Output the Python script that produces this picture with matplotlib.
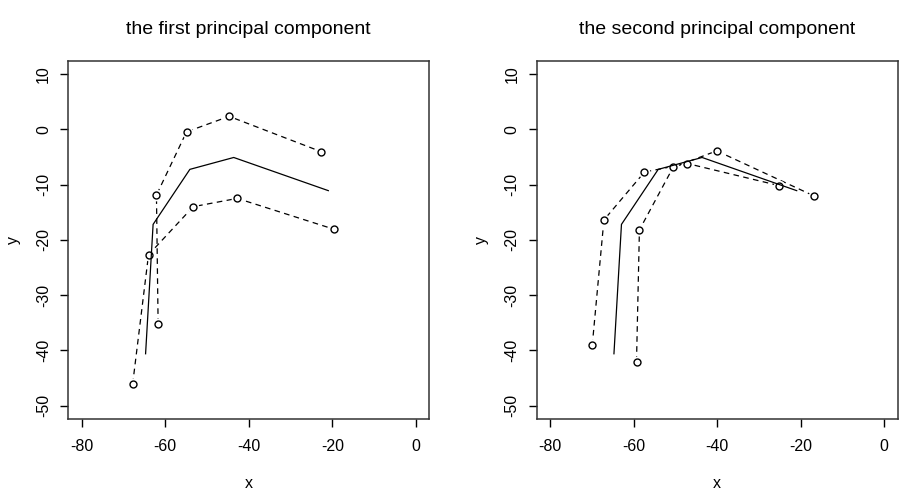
import numpy as np
from matplotlib import pyplot as plt
import matplotlib as mpl

mpl.rc('font', family=['Liberation Sans', 'DejaVu Sans'], size=11)

# principal curve (solid)
curve_x = [-64.7, -62.9, -54.1, -43.6, -20.95]
curve_y = [-40.6, -17.2, -7.25, -5.1, -11.1]

# first principal component band
pc1_lo_x = [-67.8, -64.0, -53.3, -42.75, -19.5]
pc1_lo_y = [-46.1, -22.7, -14.0, -12.5, -18.1]
pc1_hi_x = [-61.7, -62.1, -54.9, -44.7, -22.6]
pc1_hi_y = [-35.2, -11.9, -0.47, 2.34, -4.07]

# second principal component band
pc2_a_x = [-69.9, -67.1, -57.4, -47.1, -25.1]
pc2_a_y = [-39.1, -16.4, -7.74, -6.2, -10.2]
pc2_b_x = [-59.3, -58.6, -50.55, -40.1, -16.8]
pc2_b_y = [-42.05, -18.2, -6.9, -3.9, -12.06]

titles = ['the first principal component', 'the second principal component']
bands = [((pc1_lo_x, pc1_lo_y), (pc1_hi_x, pc1_hi_y)),
         ((pc2_a_x, pc2_a_y), (pc2_b_x, pc2_b_y))]
xticks = [-80, -60, -40, -20, 0]
yticks = [-50, -40, -30, -20, -10, 0, 10]

fig = plt.figure(figsize=(9, 4.94), dpi=100)
lefts = [0.0759, 0.5963]

for i in range(2):
    ax = fig.add_axes([lefts[i], 0.1518, 0.401, 0.7253])
    for bx, by in bands[i]:
        # R type="b": line broken around the points
        ax.plot(bx, by, color='black', lw=0.9, ls=(0, (4.5, 3.5)), zorder=2)
        ax.plot(bx, by, ls='none', marker='o', ms=8.5, mfc='white', mec='none', zorder=3)
        ax.plot(bx, by, ls='none', marker='o', ms=5, mfc='none', mec='black',
                mew=1.0, zorder=4)
    ax.plot(curve_x, curve_y, color='black', lw=0.9, zorder=5)

    ax.set_xlim(-83.2, 3.2)
    ax.set_ylim(-52.4, 12.4)
    ax.set_xticks(xticks)
    ax.set_yticks(yticks)
    ax.set_xticklabels([str(t) for t in xticks])
    ax.set_yticklabels([str(t) for t in yticks], rotation=90, va='center')
    ax.tick_params(length=6, width=1, pad=8.5, labelsize=11.5)
    ax.tick_params(axis='y', pad=6.5)
    for s in ax.spines.values():
        s.set_linewidth(1.1)
        s.set_color('#333333')
    ax.set_title(titles[i], fontsize=14, pad=19)
    ax.set_xlabel('x', fontsize=11.5)
    ax.set_ylabel('y', fontsize=11.5)
    ax.xaxis.set_label_coords(0.5, -0.158)
    ax.yaxis.set_label_coords(-0.132, 0.5)

fig.savefig('out.png', dpi=100)
